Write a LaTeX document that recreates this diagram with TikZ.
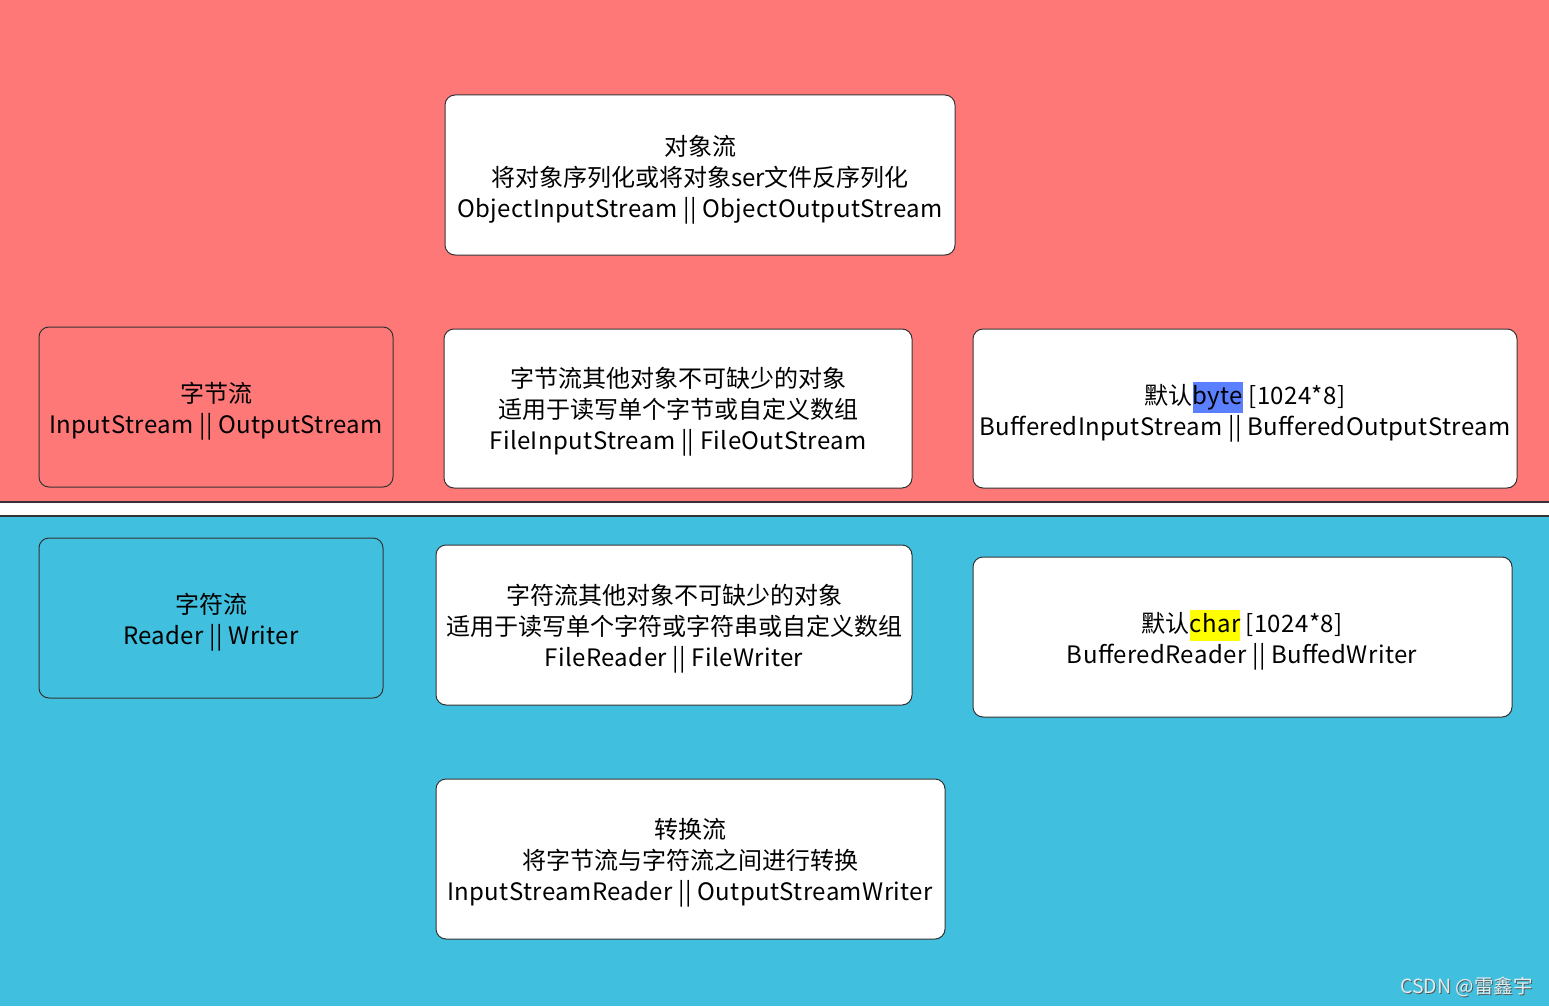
\documentclass[tikz,border=0pt]{standalone}
\usepackage{fontspec}
\setmainfont{Noto Sans CJK SC}
\newfontfamily\lat[LetterSpace=1.6]{Noto Sans CJK SC}
\usepackage{xcolor}
\definecolor{bgred}{HTML}{FF7878}
\definecolor{bgblue}{HTML}{40C0DE}
\definecolor{hlblue}{HTML}{5A80FF}
\definecolor{hlyellow}{HTML}{FFFF00}
\definecolor{edge}{HTML}{333333}
\definecolor{wm}{HTML}{DDEEF2}
\newcommand{\hl}[2]{{\setlength{\fboxsep}{0pt}\colorbox{#1}{\strut #2}}}
\begin{document}
\begin{tikzpicture}[x=1pt,y=-1pt,
  card/.style={draw=edge,line width=1pt,rounded corners=10pt,fill=white,inner sep=0pt},
  txt/.style={align=center,font=\fontsize{24}{31}\selectfont,text=black,inner sep=0pt}]
\useasboundingbox (0,0) rectangle (1549,1006);
\fill[bgred] (0,0) rectangle (1549,502);
\fill[bgblue] (0,516) rectangle (1549,1006);
\fill[white] (0,502) rectangle (1549,516);
\coordinate (l1a) at (0,502); \coordinate (l1b) at (1549,502);
\coordinate (l2a) at (0,516); \coordinate (l2b) at (1549,516);
\draw[edge,line width=1.2pt] (l1a) -- (l1b);
\draw[edge,line width=1.2pt] (l2a) -- (l2b);
% boxes
\draw[card] (445,95) rectangle (955,255);
\node[txt] (obj) at (700,180) {对象流\\将对象序列化或将对象ser文件反序列化\\{\lat ObjectInputStream || ObjectOutputStream}};
\draw[card,fill=bgred] (39,327) rectangle (393,487);
\node[txt] (byte) at (216,411) {字节流\\{\lat InputStream || OutputStream}};
\draw[card] (444,329) rectangle (912,488);
\node[txt] (file) at (678,412) {字节流其他对象不可缺少的对象\\适用于读写单个字节或自定义数组\\{\lat FileInputStream || FileOutStream}};
\draw[card] (973,329) rectangle (1517,488);
\node[txt] (buf) at (1245,412) {默认\hl{hlblue}{\lat byte} {\lat [1024*8]}\\{\lat BufferedInputStream || BufferedOutputStream}};
\draw[card,fill=bgblue] (39,538) rectangle (383,698);
\node[txt] (chr) at (211,622) {字符流\\{\lat Reader || Writer}};
\draw[card] (436,545) rectangle (912,705);
\node[txt] (frw) at (674,629) {字符流其他对象不可缺少的对象\\适用于读写单个字符或字符串或自定义数组\\{\lat FileReader || FileWriter}};
\draw[card] (973,557) rectangle (1512,717);
\node[txt] (bufr) at (1242,640) {默认\hl{hlyellow}{\lat char} {\lat [1024*8]}\\{\lat BufferedReader || BuffedWriter}};
\draw[card] (436,779) rectangle (945,939);
\node[txt] (conv) at (690,863) {转换流\\将字节流与字符流之间进行转换\\{\lat InputStreamReader || OutputStreamWriter}};
\node[font=\fontsize{19.5}{22}\selectfont,text=gray!70!black,anchor=east,inner sep=0pt] (shadow) at (1534,988) {CSDN @雷鑫宇};
\node[font=\fontsize{19.5}{22}\selectfont,text=wm,anchor=east,inner sep=0pt] (mark) at (1533,987) {CSDN @雷鑫宇};
\end{tikzpicture}
\end{document}
